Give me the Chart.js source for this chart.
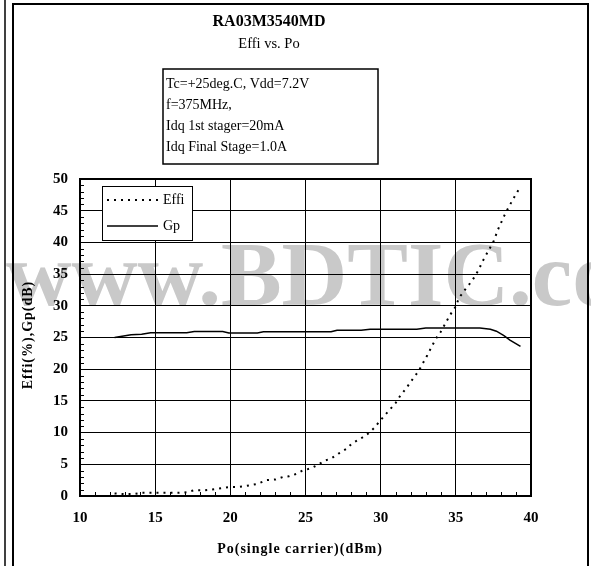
<!DOCTYPE html>
<html>
<head>
<meta charset="utf-8">
<script src="https://cdn.jsdelivr.net/npm/chart.js@4.4.1/dist/chart.umd.min.js"></script>
<style>
  html, body { margin: 0; padding: 0; background: #fff; }
  canvas { display: block; }
</style>
</head>
<body>
<canvas id="c" width="591" height="566"></canvas>
<script>
// chart data
const effiPo = [12.3, 13.0, 13.5, 14.1, 14.8, 15.4, 16.0, 16.6, 17.1, 17.6, 18.3, 19.0, 19.9, 20.5, 21.1,
  21.8, 22.4, 23.0, 23.5, 23.9, 24.4, 24.8, 25.4, 25.8, 26.3, 26.7, 27.2, 27.7, 28.1, 28.7, 29.2, 29.6,
  29.9, 30.3, 30.6, 31.0, 31.3, 31.7, 32.0, 32.2, 32.5, 32.8, 33.1, 33.4, 33.7, 34.0, 34.3, 34.6, 35.0,
  35.2, 35.6, 35.9, 36.2, 36.5, 36.8, 37.1, 37.5, 37.8, 38.2, 38.5, 38.9, 39.2];
const effi = [0.4, 0.3, 0.3, 0.5, 0.5, 0.5, 0.5, 0.5, 0.6, 0.9, 0.9, 1.1, 1.4, 1.4, 1.6,
  1.9, 2.5, 2.6, 3.0, 3.1, 3.5, 4.0, 4.4, 4.9, 5.6, 5.9, 6.7, 7.4, 8.3, 9.1, 9.9, 10.8,
  11.7, 12.8, 13.6, 14.7, 15.8, 17.0, 18.0, 18.7, 19.6, 20.9, 22.2, 23.6, 24.9, 25.9, 27.2, 28.5, 29.9,
  31.2, 32.5, 33.4, 34.4, 35.6, 37.1, 38.4, 40.1, 42.0, 44.1, 45.5, 47.2, 48.4];

const gpPo = [12.3, 13.4, 14.1, 14.7, 17.1, 17.6, 19.5, 19.9, 21.8, 22.2, 26.7, 27.1, 28.7, 29.3,
  32.4, 33.0, 36.6, 37.3, 37.7, 38.2, 38.6, 39.3];
const gp = [25.0, 25.45, 25.5, 25.75, 25.75, 25.95, 25.95, 25.7, 25.7, 25.9, 25.9, 26.15, 26.15, 26.3,
  26.3, 26.5, 26.5, 26.3, 26.0, 25.3, 24.6, 23.6];

const seriesNames = ['Effi', 'Gp'];
const xTicks = [10, 15, 20, 25, 30, 35, 40];
const yTicks = [0, 5, 10, 15, 20, 25, 30, 35, 40, 45, 50];

const chartTitle = 'RA03M3540MD';
const chartSub = 'Effi vs. Po';
const conditions = ['Tc=+25deg.C, Vdd=7.2V', 'f=375MHz,', 'Idq 1st stager=20mA', 'Idq Final Stage=1.0A'];
const xTitle = 'Po(single carrier)(dBm)';
const yTitle = 'Effi(%),Gp(dB)';
const watermark = 'www.BDTIC.com';

const serif = '"Liberation Serif", "Times New Roman", serif';

function pairs(xs, ys) {
  return xs.map((v, i) => ({ x: v, y: ys[i] }));
}

const decor = {
  id: 'decor',
  beforeDraw(chart) {
    const ctx = chart.ctx;
    ctx.save();
    ctx.fillStyle = '#fff';
    ctx.fillRect(0, 0, chart.width, chart.height);
    // grey watermark behind the plot
    ctx.fillStyle = '#c9c9c9';
    ctx.font = 'bold 91px ' + serif;
    ctx.textAlign = 'left';
    ctx.textBaseline = 'alphabetic';
    ctx.fillText(watermark, 6, 305);
    ctx.restore();
  },
  afterDraw(chart) {
    const { ctx, chartArea: a, scales: { x, y } } = chart;
    ctx.save();
    ctx.strokeStyle = '#000';
    ctx.fillStyle = '#000';

    // plot frame
    ctx.lineWidth = 2;
    ctx.strokeRect(a.left, a.top, a.right - a.left, a.bottom - a.top);

    // minor ticks, inside
    ctx.lineWidth = 1;
    ctx.beginPath();
    for (let v = 1; v < 50; v++) {
      if (v % 5 === 0) continue;
      const py = Math.round(y.getPixelForValue(v)) + 0.5;
      ctx.moveTo(a.left, py); ctx.lineTo(a.left + 4, py);
    }
    for (let v = 11; v < 40; v++) {
      if (v % 5 === 0) continue;
      const px = Math.round(x.getPixelForValue(v)) + 0.5;
      ctx.moveTo(px, a.bottom); ctx.lineTo(px, a.bottom - 4);
    }
    ctx.stroke();

    // legend box
    const lx = a.left + 22, ly = a.top + 7, lw = 90, lh = 54;
    ctx.fillStyle = '#fff';
    ctx.fillRect(lx, ly, lw, lh);
    ctx.lineWidth = 1;
    ctx.strokeRect(lx + 0.5, ly + 0.5, lw, lh);
    ctx.font = '14px ' + serif;
    ctx.textAlign = 'left';
    ctx.textBaseline = 'middle';
    chart.data.datasets.forEach((ds, i) => {
      const yy = ly + 14 + i * 26;
      ctx.save();
      ctx.strokeStyle = '#000';
      ctx.lineWidth = ds.borderWidth;
      ctx.setLineDash(ds.borderDash || []);
      ctx.beginPath();
      ctx.moveTo(lx + 5, yy); ctx.lineTo(lx + 56, yy);
      ctx.stroke();
      ctx.restore();
      ctx.fillStyle = '#000';
      ctx.fillText(ds.label, lx + 61, yy);
    });

    // titles
    ctx.fillStyle = '#000';
    ctx.textAlign = 'center';
    ctx.font = 'bold 16px ' + serif;
    ctx.fillText(chartTitle, 269, 22);
    ctx.font = '14.5px ' + serif;
    ctx.fillText(chartSub, 269, 44);

    // conditions box
    ctx.lineWidth = 1.5;
    ctx.strokeRect(163, 69, 215, 95);
    ctx.font = '14px ' + serif;
    ctx.textAlign = 'left';
    conditions.forEach((t, i) => ctx.fillText(t, 166, 84 + i * 21));

    // axis titles
    ctx.font = 'bold 14px ' + serif;
    ctx.letterSpacing = '1px';
    ctx.textAlign = 'center';
    ctx.fillText(xTitle, 300, 549);
    ctx.save();
    ctx.translate(28, 335);
    ctx.rotate(-Math.PI / 2);
    ctx.fillText(yTitle, 0, 0);
    ctx.restore();
    ctx.letterSpacing = '0px';

    // page frame
    ctx.lineWidth = 1.5;
    ctx.beginPath();
    ctx.moveTo(5, 0); ctx.lineTo(5, chart.height);
    ctx.stroke();
    ctx.lineWidth = 2;
    ctx.strokeRect(13, 4, 575, chart.height + 10);
    ctx.restore();
  }
};

new Chart(document.getElementById('c'), {
  type: 'line',
  data: {
    datasets: [
      {
        label: seriesNames[0],
        data: pairs(effiPo, effi),
        borderColor: '#000',
        borderWidth: 2,
        borderDash: [2, 5],
        pointRadius: 0,
        fill: false,
        tension: 0
      },
      {
        label: seriesNames[1],
        data: pairs(gpPo, gp),
        borderColor: '#000',
        borderWidth: 1.5,
        pointRadius: 0,
        fill: false,
        tension: 0
      }
    ]
  },
  options: {
    responsive: false,
    devicePixelRatio: 1,
    animation: false,
    layout: { padding: { left: 0, top: 179, right: 60, bottom: 0 } },
    plugins: { legend: { display: false }, title: { display: false }, tooltip: { enabled: false } },
    scales: {
      x: {
        type: 'linear',
        min: 10, max: 40,
        afterBuildTicks: s => { s.ticks = xTicks.map(v => ({ value: v })); },
        afterFit: s => { s.height = 70; },
        grid: { color: '#000', lineWidth: 1, drawTicks: false },
        border: { color: '#000', width: 2 },
        ticks: { color: '#000', padding: 13, font: { family: serif, size: 15, weight: 'bold' } }
      },
      y: {
        type: 'linear',
        min: 0, max: 50,
        afterBuildTicks: s => { s.ticks = yTicks.map(v => ({ value: v })); },
        afterFit: s => { s.width = 80; },
        grid: { color: '#000', lineWidth: 1, drawTicks: false },
        border: { color: '#000', width: 2 },
        ticks: { color: '#000', padding: 12, font: { family: serif, size: 15, weight: 'bold' } }
      }
    }
  },
  plugins: [decor]
});
</script>
</body>
</html>
